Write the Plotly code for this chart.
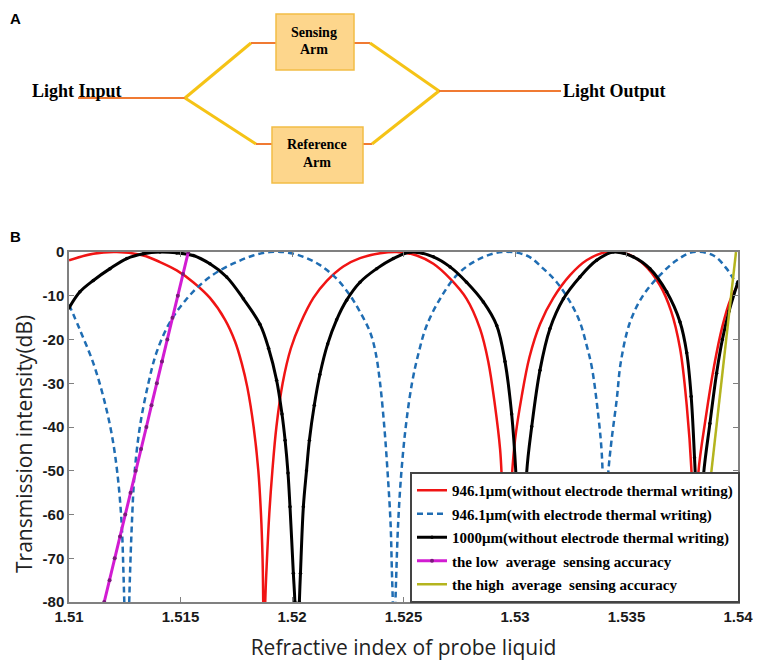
import plotly.graph_objects as go

# the page body has an 8px margin, so the figure is 8px smaller than the window
OFF = 8
W, H = 765 - OFF, 668 - OFF

# ---- panel B data (refractive index, transmission dB) ----
red_n = [1.51000, 1.51109, 1.51214, 1.51333, 1.51408, 1.51483, 1.51557, 1.51632, 1.51700,
         1.51745, 1.51775, 1.51800, 1.51828, 1.51849, 1.51861, 1.51868, 1.51871, 1.51875,
         1.51880, 1.51888, 1.51898, 1.51912, 1.51930, 1.51958, 1.51995, 1.52036, 1.52096,
         1.52156, 1.52230, 1.52305, 1.52395, 1.52470, 1.52559, 1.52634, 1.52709, 1.52783,
         1.52843, 1.52880, 1.52910, 1.52933, 1.52941, 1.52950, 1.52961, 1.52972, 1.52985,
         1.53000, 1.53030, 1.53065, 1.53112, 1.53172, 1.53247, 1.53321, 1.53411, 1.53501,
         1.53575, 1.53650, 1.53700, 1.53740, 1.53770, 1.53792, 1.53800, 1.53807, 1.53814,
         1.53822, 1.53855, 1.53893, 1.53930, 1.53965, 1.54000]
red_db = [-1.9, -0.4, 0.0, -0.8, -2.3, -4.2, -6.9, -10.5, -15.5,
          -20.5, -25.5, -31.0, -40.0, -50.0, -60.0, -70.0, -80, -100,
          -80, -70.0, -60.0, -50.0, -40.0, -30.0, -22.0, -16.5, -10.5,
          -6.6, -3.3, -1.4, -0.3, 0.0, -0.8, -2.7, -6.1, -10.7,
          -17.5, -25.0, -35.0, -45.0, -52.0, -65.0, -100, -65.0, -52.0,
          -43.0, -33.0, -24.0, -16.5, -10.5, -5.3, -1.9, 0.0, -0.4,
          -2.7, -7.6, -13.5, -22.0, -35.0, -50.6, -65.0, -100, -65.0,
          -50.6, -38.0, -26.0, -17.0, -11.0, -7.5]

blue_n = [1.51000, 1.51049, 1.51109, 1.51154, 1.51191, 1.51217, 1.51236, 1.51244, 1.51248,
          1.51259, 1.51270, 1.51274, 1.51282, 1.51294, 1.51318, 1.51356, 1.51393, 1.51453,
          1.51528, 1.51602, 1.51677, 1.51752, 1.51826, 1.51901, 1.51976, 1.52051, 1.52126,
          1.52200, 1.52260, 1.52305, 1.52350, 1.52375, 1.52395, 1.52414, 1.52429, 1.52442,
          1.52448, 1.52452, 1.52458, 1.52464, 1.52468, 1.52476, 1.52490, 1.52510, 1.52538,
          1.52568, 1.52604, 1.52664, 1.52739, 1.52828, 1.52940, 1.53052, 1.53127, 1.53187,
          1.53247, 1.53291, 1.53321, 1.53344, 1.53369, 1.53389, 1.53396, 1.53403, 1.53410,
          1.53418, 1.53433, 1.53456, 1.53475, 1.53516, 1.53575, 1.53650, 1.53725, 1.53800,
          1.53890, 1.53949, 1.53979, 1.54000]
blue_db = [-12.0, -17.8, -25.4, -33.1, -41.5, -50.6, -62.0, -73.0, -80,
           -100, -80, -73.0, -62.0, -50.6, -39.9, -30.0, -22.9, -16.0,
           -10.7, -6.9, -4.2, -2.3, -0.8, 0.0, -0.1, -1.1, -3.0,
           -6.1, -9.9, -13.7, -18.3, -23.0, -30.0, -40.0, -50.6, -62.0,
           -73.0, -80, -100, -80, -73.0, -62.0, -50.6, -40.0, -30.0,
           -23.0, -16.8, -10.7, -5.3, -1.9, 0.0, -0.8, -3.8, -6.9,
           -11.4, -16.0, -21.3, -26.2, -35.4, -46.0, -60.0, -100, -60.0,
           -50.6, -43.0, -33.8, -25.0, -16.0, -9.9, -5.3, -1.9, 0.0,
           -0.8, -3.8, -6.1, -7.5]

black_n = [1.51000, 1.51049, 1.51109, 1.51184, 1.51259, 1.51333, 1.51408, 1.51483, 1.51557,
           1.51632, 1.51707, 1.51782, 1.51856, 1.51895, 1.51931, 1.51955, 1.51969, 1.51982,
           1.51991, 1.52006, 1.52013, 1.52023, 1.52033, 1.52038, 1.52051, 1.52065, 1.52078,
           1.52100, 1.52125, 1.52160, 1.52200, 1.52245, 1.52305, 1.52380, 1.52454, 1.52534,
           1.52634, 1.52709, 1.52783, 1.52858, 1.52918, 1.52955, 1.52985, 1.53004, 1.53018,
           1.53030, 1.53042, 1.53052, 1.53075, 1.53112, 1.53157, 1.53217, 1.53291, 1.53366,
           1.53441, 1.53530, 1.53605, 1.53680, 1.53740, 1.53770, 1.53790, 1.53805, 1.53815,
           1.53825, 1.53836, 1.53846, 1.53874, 1.53904, 1.53930, 1.53960, 1.54000]
black_db = [-12.8, -9.1, -6.5, -3.8, -1.5, -0.4, 0.0, -0.2, -0.8,
            -2.7, -5.7, -10.7, -16.5, -22.0, -29.3, -37.0, -43.0, -50.5,
            -58.2, -73.4, -80, -100, -80, -73.4, -58.2, -50.0, -43.0,
            -35.0, -28.0, -21.0, -15.5, -11.0, -6.9, -3.8, -1.5, 0.0,
            -1.1, -3.4, -6.9, -11.4, -16.8, -25.0, -37.0, -50.6, -70.0,
            -100, -70.0, -50.6, -39.9, -27.0, -17.5, -10.7, -5.7, -1.9,
            0.0, -1.1, -3.8, -9.1, -16.0, -23.0, -33.0, -47.0, -60.0,
            -100, -60.0, -50.6, -39.2, -27.7, -20.0, -13.5, -6.8]

low_n = [1.51158, 1.51182, 1.51205, 1.51229, 1.51252, 1.51276, 1.51299, 1.51323, 1.51347,
         1.51370, 1.51394, 1.51417, 1.51441, 1.51464, 1.51488, 1.51511, 1.51535]
low_db = [-80, -75, -70, -65, -60, -55, -50, -45, -40,
          -35, -30, -25, -20, -15, -10, -5, 0]

high_n = [1.53815, 1.53837, 1.53859, 1.53881, 1.53903, 1.53925, 1.53947, 1.53969, 1.53991]
high_db = [-80, -70, -60, -50, -40, -30, -20, -10, 0]

x_ticks = [1.51, 1.515, 1.52, 1.525, 1.53, 1.535, 1.54]
x_ticktext = ["1.51", "1.515", "1.52", "1.525", "1.53", "1.535", "1.54"]
y_ticks = [0, -10, -20, -30, -40, -50, -60, -70, -80]
y_ticktext = ["0", "-10", "-20", "-30", "-40", "-50", "-60", "-70", "-80"]

names = ["946.1μm(without electrode thermal writing)",
         "946.1μm(with electrode thermal writing)",
         "1000μm(without electrode thermal writing)",
         "the low  average  sensing accuracy",
         "the high  average  sensing accuracy"]


# window pixel -> paper fraction
def fx(x):
    return (x - OFF) / W


def fy(y):
    return 1 - (y - OFF) / H


fig = go.Figure()

fig.add_trace(go.Scatter(x=red_n, y=red_db, mode="lines", name=names[0], legendgroup="g1",
                         line=dict(color="#f01414", width=2.5, shape="spline", smoothing=1)))
fig.add_trace(go.Scatter(x=blue_n, y=blue_db, mode="lines", name=names[1], legendgroup="g2",
                         line=dict(color="#1f6db3", width=2.5, dash="6px,4px",
                                   shape="spline", smoothing=1)))
fig.add_trace(go.Scatter(x=black_n, y=black_db, mode="lines+markers", name=names[2], legendgroup="g3",
                         line=dict(color="black", width=3, shape="spline", smoothing=1),
                         marker=dict(color="black", size=3.5)))
fig.add_trace(go.Scatter(x=low_n, y=low_db, mode="lines+markers", name=names[3], legendgroup="g4",
                         line=dict(color="#d21cd2", width=3),
                         marker=dict(color="#7a1a7a", size=4)))
fig.add_trace(go.Scatter(x=high_n, y=high_db, mode="lines", name=names[4], legendgroup="g5",
                         line=dict(color="#b4b41e", width=2.5)))

axis_common = dict(showgrid=False, zeroline=False, showline=True, linecolor="#808080",
                   linewidth=1.5, mirror="ticks", ticks="inside", ticklen=5,
                   tickcolor="#808080", automargin=False,
                   tickfont=dict(family="Liberation Sans", size=15, color="#1a1a1a", weight="bold"))

title_font = dict(family="Open Sans", size=21, color="#222")
fig.update_xaxes(range=[1.51, 1.54], tickvals=x_ticks, ticktext=x_ticktext,
                 domain=[fx(69), fx(738)],
                 title=dict(text="Refractive index of probe liquid", standoff=17, font=title_font),
                 **axis_common)
fig.update_yaxes(range=[-80, 0], tickvals=y_ticks, ticktext=y_ticktext,
                 domain=[fy(602), fy(252)], **axis_common)

# ---- panel A: Mach-Zehnder schematic, positions in window pixels ----
orange = "#f07a32"
gold = "#f5c316"
segments = [
    ((78, 98), (185, 98), orange, 2),
    ((185, 98), (251, 43), gold, 3),
    ((185, 98), (256, 144), gold, 3),
    ((251, 43), (276, 43), orange, 2),
    ((354, 43), (370, 43), orange, 2),
    ((256, 144), (272, 144), orange, 2),
    ((363, 144), (372, 144), orange, 2),
    ((370, 43), (439, 91), gold, 3),
    ((372, 144), (439, 91), gold, 3),
    ((439, 91), (561, 91), orange, 2),
]
shapes = []
for (x0, y0), (x1, y1), c, w in segments:
    shapes.append(dict(type="line", xref="paper", yref="paper",
                       x0=fx(x0), y0=fy(y0), x1=fx(x1), y1=fy(y1),
                       line=dict(color=c, width=w)))
for x0, y0, x1, y1 in [(276, 14, 354, 70), (272, 127, 363, 183)]:
    shapes.append(dict(type="rect", xref="paper", yref="paper",
                       x0=fx(x0), y0=fy(y0), x1=fx(x1), y1=fy(y1),
                       fillcolor="#fdd68c", line=dict(color="#f2bd45", width=1.5)))

serif = dict(family="Liberation Serif", color="black", weight="bold")
annotations = []
for text, x, y, size in [("Sensing", 314, 32, 14), ("Arm", 314, 50, 14),
                         ("Reference", 317, 144, 14), ("Arm", 317, 162, 14),
                         ("Light Input", 77, 91, 18), ("Light Output", 614, 91, 18)]:
    annotations.append(dict(text=text, x=fx(x), y=fy(y), xref="paper", yref="paper",
                            xanchor="center", yanchor="middle",
                            showarrow=False, font=dict(size=size, **serif)))
# panel letters; "A" is pinned to the top edge so its box stays inside the figure
annotations.append(dict(text="A", x=0, y=1, xref="paper", yref="paper",
                        xanchor="left", yanchor="top", showarrow=False,
                        font=dict(family="Liberation Sans", size=15, color="black", weight="bold")))
annotations.append(dict(text="B", x=0, y=fy(236), xref="paper", yref="paper",
                        xanchor="left", yanchor="middle", showarrow=False,
                        font=dict(family="Liberation Sans", size=15, color="black", weight="bold")))

# y axis title (placed by hand so it sits where the reference has it)
annotations.append(dict(text="Transmission intensity(dB)", x=0, y=fy(444),
                        xref="paper", yref="paper", textangle=-90,
                        xanchor="left", yanchor="middle", showarrow=False, font=title_font))

fig.update_layout(
    width=W, height=H,
    margin=dict(l=0, r=0, t=0, b=0),
    paper_bgcolor="white", plot_bgcolor="white",
    shapes=shapes, annotations=annotations,
    legend=dict(x=fx(740), y=fy(603), xanchor="right", yanchor="bottom",
                bgcolor="white", bordercolor="#444", borderwidth=2,
                tracegroupgap=1,
                font=dict(family="Liberation Serif", size=15, color="black", weight="bold")),
)

fig.write_html("out.html")
